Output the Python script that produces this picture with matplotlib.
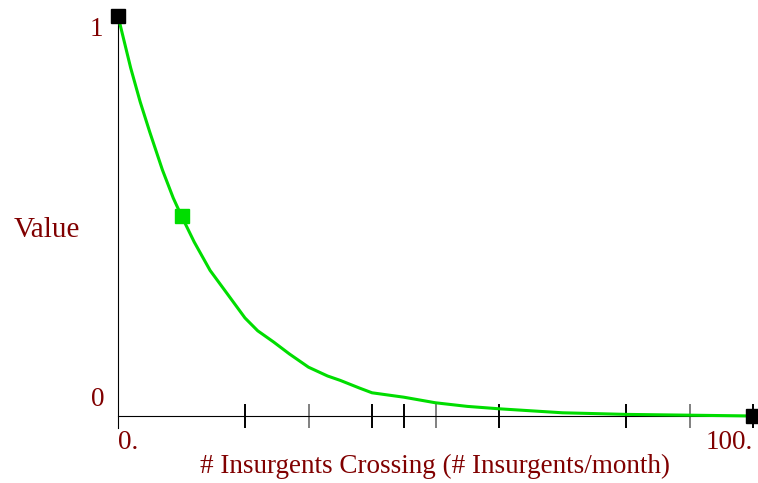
import matplotlib
matplotlib.use('Agg')
from matplotlib import pyplot as plt

# lookup curve
crossing = [0, 2, 3.5, 5, 7, 8.7, 10, 12, 14.5, 17, 20, 22, 24.5, 27, 30, 33,
            35, 38, 40, 45, 50, 55, 60, 70, 80, 90, 100]
value = [1.0, 0.87, 0.785, 0.71, 0.615, 0.545, 0.50, 0.435, 0.364, 0.31, 0.245,
         0.213, 0.185, 0.155, 0.122, 0.10, 0.089, 0.07, 0.058, 0.047,
         0.033, 0.024, 0.018, 0.008, 0.004, 0.002, 0.0]

end_x = [0, 100]
end_y = [1, 0]
current_x = [10]
current_y = [0.5]

tick_pos = [20, 30, 40, 45, 50, 60, 80, 90, 100]
tick_cols = ['black', 'grey', 'black', 'black', 'grey', 'black', 'black', 'grey', 'black']

red = '#800000'
green = '#00dd00'
plt.rcParams['font.family'] = ['Liberation Serif', 'DejaVu Serif']

fig = plt.figure(figsize=(7.58, 4.83), dpi=100)
ax = fig.add_axes([118 / 758, 1 - 428 / 483, 635 / 758, 412 / 483])
ax.set_xlim(0, 100)
ax.set_ylim(-12 / 399.5, 1)

for s in ['top', 'right']:
    ax.spines[s].set_visible(False)
ax.spines['bottom'].set_position(('data', 0))
ax.spines['left'].set_linewidth(0.8)
ax.spines['bottom'].set_linewidth(0.8)

ax.plot(crossing, value, color=green, lw=2.2, zorder=3, clip_on=False)
ax.plot(end_x, end_y, 's', color='black', ms=10, zorder=4, clip_on=False)
ax.plot(current_x, current_y, 's', color=green, ms=10, zorder=4, clip_on=False)

ax.set_xticks(tick_pos)
ax.set_xticklabels([])
ax.tick_params(axis='x', direction='inout', length=17.5, width=1.4)
for t, c in zip(ax.xaxis.get_major_ticks(), tick_cols):
    t.tick1line.set_markeredgecolor(c)
ax.set_yticks([])

fs = 19.5
ax.text(0, -0.066, '0.', color=red, fontsize=fs, ha='left', va='center')
ax.text(100, -0.066, '100.', color=red, fontsize=fs, ha='right', va='center')
ax.text(-2.3, 0.965, '1', color=red, fontsize=fs, ha='right', va='center')
ax.text(-2.2, 0.042, '0', color=red, fontsize=fs, ha='right', va='center')
ax.text(50, -0.125, '# Insurgents Crossing (# Insurgents/month)', color=red,
        fontsize=fs, ha='center', va='center')
fig.text(47 / 758, 1 - 230 / 483, 'Value', color=red, fontsize=21,
         ha='center', va='center')

fig.savefig('out.png', dpi=100)
